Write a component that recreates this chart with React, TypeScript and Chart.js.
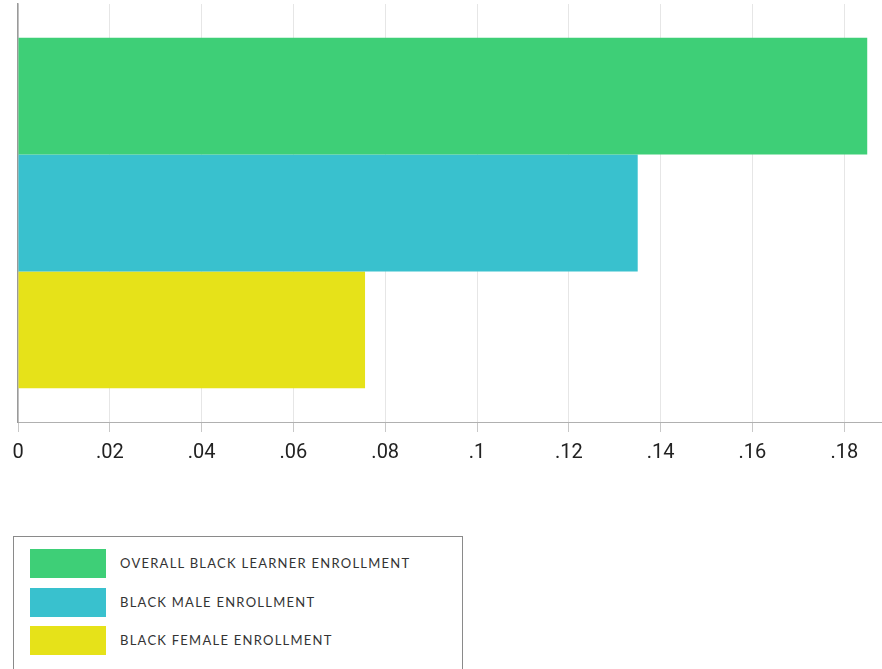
import React, { useEffect, useRef } from "react";
import { Chart, registerables } from "chart.js";

Chart.register(...registerables);

const categories = [""];
const seriesLabels = [
  "OVERALL BLACK LEARNER ENROLLMENT",
  "BLACK MALE ENROLLMENT",
  "BLACK FEMALE ENROLLMENT",
];
const overallValues = [0.185];
const maleValues = [0.135];
const femaleValues = [0.0756];
const seriesColors = ["#3ecf77", "#39c1ce", "#e6e219"];
const tickValues = [0, 0.02, 0.04, 0.06, 0.08, 0.1, 0.12, 0.14, 0.16, 0.18];
const axisMax = 0.188;

function fmt(v: number): string {
  if (v === 0) return "0";
  const s = String(Math.round(v * 100) / 100);
  return s.replace(/^0\./, ".");
}

export default function App() {
  const ref = useRef<HTMLCanvasElement | null>(null);

  useEffect(() => {
    if (!ref.current) return;
    const seriesValues = [overallValues, maleValues, femaleValues];
    const chart = new Chart(ref.current, {
      type: "bar",
      data: {
        labels: categories,
        datasets: seriesLabels.map((label, i) => ({
          label,
          data: seriesValues[i],
          backgroundColor: seriesColors[i],
          borderWidth: 0,
          categoryPercentage: 0.838,
          barPercentage: 1,
        })),
      },
      options: {
        indexAxis: "y",
        animation: false,
        responsive: true,
        maintainAspectRatio: false,
        layout: { padding: { left: 18, right: 1, top: 4, bottom: 6 } },
        plugins: {
          legend: { display: false },
          tooltip: { enabled: false },
        },
        scales: {
          x: {
            min: 0,
            max: axisMax,
            afterBuildTicks: (scale: any) => {
              scale.ticks = tickValues.map((v) => ({ value: v }));
            },
            grid: {
              color: "#e6e6e6",
              tickColor: "#c8c8c8",
              tickLength: 10,
              drawTicks: true,
            },
            border: { display: true, color: "#b0b0b0", width: 1 },
            ticks: {
              padding: 9,
              color: "#222",
              font: { family: "Roboto", size: 20 },
              callback: (v: any) => fmt(Number(v)),
              maxRotation: 0,
              autoSkip: false,
            },
          },
          y: {
            grid: { display: false, drawTicks: false },
            border: { display: true, color: "#9a9a9a", width: 1.5 },
            ticks: { display: false },
          },
        },
      },
    });
    return () => chart.destroy();
  }, []);

  return (
    <div
      style={{
        position: "absolute",
        left: 0,
        top: 0,
        width: 882,
        height: 669,
        overflow: "hidden",
        background: "#fff",
      }}
    >
      <div style={{ position: "absolute", left: 0, top: 0, width: 882, height: 480 }}>
        <canvas ref={ref} />
      </div>
      <div
        style={{
          position: "absolute",
          left: 13,
          top: 536,
          width: 448,
          height: 150,
          border: "1px solid #8a8a8a",
        }}
      />
      {seriesLabels.map((label, i) => {
        const tops = [549, 588, 626];
        return (
          <React.Fragment key={label}>
            <div
              style={{
                position: "absolute",
                left: 30,
                top: tops[i],
                width: 76,
                height: 29,
                background: seriesColors[i],
              }}
            />
            <div
              style={{
                position: "absolute",
                left: 120,
                top: tops[i],
                height: 29,
                lineHeight: "29px",
                fontFamily: "Lato",
                fontSize: 13,
                letterSpacing: "1.25px",
                color: "#333",
                whiteSpace: "nowrap",
              }}
            >
              {label}
            </div>
          </React.Fragment>
        );
      })}
    </div>
  );
}
